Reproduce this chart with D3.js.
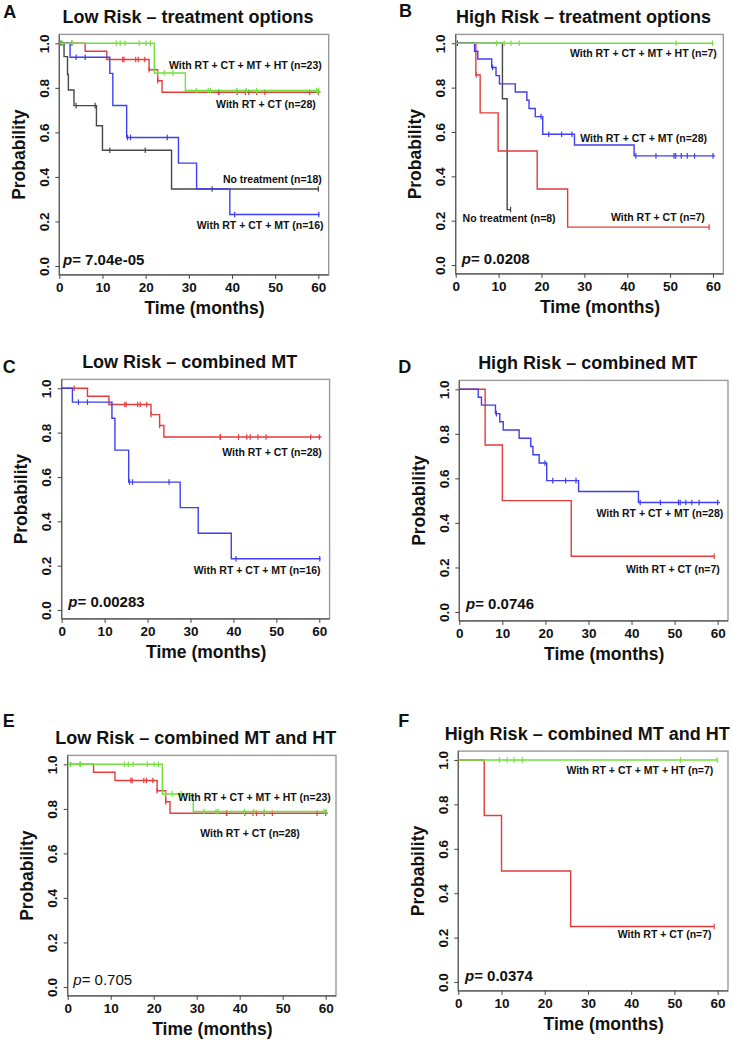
<!DOCTYPE html>
<html><head><meta charset="utf-8">
<script src="https://cdn.jsdelivr.net/npm/d3@7"></script>
<style>
body{margin:0;background:#fff}
svg{display:block}
text{font-family:"Liberation Sans",Arial,Helvetica,sans-serif;fill:#111}
</style>
</head><body>
<svg id="chart" width="733" height="1042"></svg>
<script>
// ---------------- data ----------------
const xTickValues = [0, 10, 20, 30, 40, 50, 60];
const xTickLabels = ["0", "10", "20", "30", "40", "50", "60"];
const yTickValues = [0, 0.2, 0.4, 0.6, 0.8, 1.0];
const yTickLabels = ["0.0", "0.2", "0.4", "0.6", "0.8", "1.0"];

// Low risk – no treatment (n=18)
const lowNoTxTimes = [0, 1.1, 1.9, 2.1, 3.4, 8.6, 10.0, 26.0];
const lowNoTxSurv  = [1, 0.94, 0.86, 0.79, 0.72, 0.63, 0.52, 0.346];
const lowNoTxCens  = [0.4, 3.9, 8.3, 11.7, 19.9, 35.4, 60.0];
const lowNoTxEnd   = 60.0;

// Low risk – RT + CT (n=28)
const lowRtCtTimes = [0, 6.0, 11.0, 20.8, 22.8, 23.8];
const lowRtCtSurv  = [1, 0.964, 0.927, 0.881, 0.832, 0.780];
const lowRtCtCens  = [2.9, 14.7, 15.0, 17.7, 18.3, 19.8, 20.8, 22.8, 36.9, 37.0, 41.2, 43.1, 43.9, 45.7, 47.6, 58.0, 60.0];
const lowRtCtEnd   = 60.5;

// Low risk – RT + CT + MT (n=16)
const lowRtCtMtTimes = [0, 2.5, 11.7, 12.4, 15.6, 27.6, 31.8, 39.5];
const lowRtCtMtSurv  = [1, 0.9375, 0.865, 0.721, 0.577, 0.462, 0.346, 0.231];
const lowRtCtMtCens  = [3.9, 6.0, 15.8, 16.5, 25.0, 40.6, 60.1];
const lowRtCtMtEnd   = 60.3;

// Low risk – RT + CT + MT + HT (n=23)
const lowAllTimes = [0, 22.0, 29.2];
const lowAllSurv  = [1, 0.867, 0.788];
const lowAllCens  = [0.7, 3.0, 13.2, 14.1, 15.2, 18.5, 20.1, 21.1, 22.7, 24.3, 26.3, 31.7, 34.5, 35.0, 41.1, 43.3, 45.7, 59.6, 60.1];
const lowAllEnd   = 60.3;

// High risk – no treatment (n=8)
const highNoTxTimes = [0, 10.9, 12.0];
const highNoTxSurv  = [1, 0.75, 0.25];
const highNoTxCens  = [0.4, 12.8];
const highNoTxEnd   = 12.8;

// High risk – RT + CT (n=7), panel B
const highRtCtTimes = [0, 4.7, 5.7, 9.9, 19.0, 26.1];
const highRtCtSurv  = [1, 0.857, 0.686, 0.514, 0.343, 0.171];
const highRtCtCens  = [4.8, 59.1];
const highRtCtEnd   = 59.1;

// High risk – RT + CT (n=7), panels D and F
const highRtCt2Times = [0, 6.0, 10.0, 26.0];
const highRtCt2Surv  = [1, 0.75, 0.5, 0.25];
const highRtCt2Cens  = [59.2];
const highRtCt2End   = 59.2;

// High risk – RT + CT + MT (n=28)
const highRtCtMtTimes = [0, 4.4, 5.15, 8.4, 9.4, 10.2, 13.9, 16.6, 17.1, 18.55, 20.3, 27.7, 41.6];
const highRtCtMtSurv  = [1, 0.964, 0.929, 0.891, 0.854, 0.817, 0.780, 0.743, 0.706, 0.669, 0.590, 0.541, 0.492];
const highRtCtMtCens  = [8.6, 19.9, 21.7, 24.7, 27.1, 42.0, 46.7, 50.9, 51.3, 52.6, 54.0, 55.7, 60.0];
const highRtCtMtEnd   = 60.5;

// High risk – RT + CT + MT + HT (n=7)
const highAllTimes = [0];
const highAllSurv  = [1];
const highAllCens  = [9.5, 11.3, 12.9, 14.8, 51.4, 59.9];
const highAllEnd   = 59.9;

const pValues = ["7.04e-05", "0.0208", "0.00283", "0.0746", "0.705", "0.0374"];

// ---------------- styles ----------------
const COL = {black: "#474747", red: "#e23c3c", blue: "#3f3ff0", green: "#72e03e"};

const curve = (times, surv, cens, end, color) => ({times, surv, cens, end, color});
const lowNoTx    = curve(lowNoTxTimes, lowNoTxSurv, lowNoTxCens, lowNoTxEnd, COL.black);
const lowRtCt    = curve(lowRtCtTimes, lowRtCtSurv, lowRtCtCens, lowRtCtEnd, COL.red);
const lowRtCtMt  = curve(lowRtCtMtTimes, lowRtCtMtSurv, lowRtCtMtCens, lowRtCtMtEnd, COL.blue);
const lowAll     = curve(lowAllTimes, lowAllSurv, lowAllCens, lowAllEnd, COL.green);
const highNoTx   = curve(highNoTxTimes, highNoTxSurv, highNoTxCens, highNoTxEnd, COL.black);
const highRtCt   = curve(highRtCtTimes, highRtCtSurv, highRtCtCens, highRtCtEnd, COL.red);
const highRtCt2  = curve(highRtCt2Times, highRtCt2Surv, highRtCt2Cens, highRtCt2End, COL.red);
const highRtCtMt = curve(highRtCtMtTimes, highRtCtMtSurv, highRtCtMtCens, highRtCtMtEnd, COL.blue);
const highAll    = curve(highAllTimes, highAllSurv, highAllCens, highAllEnd, COL.green);

const panels = [
  {letter: "A", letterPos: [3.3, 18.3], title: "Low Risk – treatment options",
   box: [59.3, 34.4, 328.7, 274.9], curves: [lowNoTx, lowRtCt, lowRtCtMt, lowAll],
   labels: [["With RT + CT + MT + HT (n=23)", 60.8, 0.885, "end"], ["With RT + CT (n=28)", 59.4, 0.708, "end"],
            ["No treatment (n=18)", 60.8, 0.371, "end"], ["With RT + CT + MT (n=16)", 61.2, 0.166, "end"]],
   p: 0, pBold: true, pPos: [0.86, 0.004]},
  {letter: "B", letterPos: [399, 16.7], title: "High Risk – treatment options",
   box: [455.7, 34.4, 723.3, 273.9], curves: [highNoTx, highRtCt, highRtCtMt, highAll],
   labels: [["With RT + CT + MT + HT (n=7)", 60.9, 0.937, "end"], ["With RT + CT + MT (n=28)", 58.6, 0.556, "end"],
            ["No treatment (n=8)", 23.3, 0.193, "end"], ["With RT + CT (n=7)", 58.1, 0.2, "end"]],
   p: 1, pBold: true, pPos: [1.4, 0.004]},
  {letter: "C", letterPos: [2.7, 372.7], title: "Low Risk – combined MT",
   box: [61.7, 379.4, 329.6, 618.9], curves: [lowRtCt, lowRtCtMt],
   labels: [["With RT + CT (n=28)", 60.6, 0.696, "end"], ["With RT + CT + MT (n=16)", 60.3, 0.162, "end"]],
   p: 2, pBold: true, pPos: [1.54, 0.012]},
  {letter: "D", letterPos: [398.3, 373.3], title: "High Risk – combined MT",
   box: [459.3, 380.4, 728.0, 620.9], curves: [highRtCt2, highRtCtMt],
   labels: [["With RT + CT + MT (n=28)", 61.3, 0.425, "end"], ["With RT + CT (n=7)", 60.5, 0.176, "end"]],
   p: 3, pBold: true, pPos: [1.56, 0.012]},
  {letter: "E", letterPos: [2.7, 726.7], title: "Low Risk – combined MT and HT",
   box: [67.7, 755.4, 336.0, 995.9], curves: [lowRtCt, lowAll],
   labels: [["With RT + CT + MT + HT (n=23)", 61.2, 0.837, "end"], ["With RT + CT (n=28)", 54.0, 0.672, "end"]],
   p: 4, pBold: false, pPos: [1.3, 0.009]},
  {letter: "F", letterPos: [398.3, 726.7], title: "High Risk – combined MT and HT",
   box: [458.3, 751.1, 728.0, 990.9], curves: [highRtCt2, highAll],
   labels: [["With RT + CT + MT + HT (n=7)", 59.0, 0.936, "end"], ["With RT + CT (n=7)", 58.6, 0.2, "end"]],
   p: 5, pBold: true, pPos: [1.55, 0.004]}
];

// ---------------- drawing ----------------
const svg = d3.select("#chart");

function survAt(c, t) {
  let s = c.surv[0];
  for (let i = 0; i < c.times.length; i++) if (c.times[i] <= t + 1e-9) s = c.surv[i];
  return s;
}

panels.forEach(P => {
  const [x0, y0, x1, y1] = P.box;
  const x = d3.scaleLinear().domain([0, 62.4]).range([x0, x1]);
  const y = d3.scaleLinear().domain([-0.04, 1.04]).range([y1, y0]);
  const g = svg.append("g");

  // panel letter + title
  g.append("text").attr("x", P.letterPos[0]).attr("y", P.letterPos[1])
    .attr("font-size", 18).attr("font-weight", "bold").text(P.letter);
  g.append("text").attr("x", (x0 + x1) / 2 - 6).attr("y", y0 - 11.5)
    .attr("text-anchor", "middle").attr("font-size", 18).attr("font-weight", "bold").text(P.title);

  // box
  g.append("rect").attr("x", x0).attr("y", y0).attr("width", x1 - x0).attr("height", y1 - y0)
    .attr("fill", "none").attr("stroke", "#9a9a9a").attr("stroke-width", 1.4);
  g.append("line").attr("x1", x0).attr("x2", x0).attr("y1", y0).attr("y2", y1).attr("stroke", "#555").attr("stroke-width", 1.1);
  g.append("line").attr("x1", x0).attr("x2", x1).attr("y1", y1).attr("y2", y1).attr("stroke", "#555").attr("stroke-width", 1.1);

  // x axis
  const xa = g.append("g").attr("transform", `translate(0,${y1})`)
    .call(d3.axisBottom(x).tickValues(xTickValues).tickFormat((d, i) => xTickLabels[i]).tickSize(4).tickPadding(3));
  xa.select(".domain").remove();
  xa.selectAll(".tick line").attr("stroke", "#444");
  xa.selectAll(".tick text").attr("font-size", 13.5).attr("font-weight", "bold").attr("fill", "#1a1a1a")
    .attr("font-family", "Liberation Sans, Arial, sans-serif").attr("dy", null).attr("y", 17.5);

  // y axis
  const ya = g.append("g").attr("transform", `translate(${x0},0)`)
    .call(d3.axisLeft(y).tickValues(yTickValues).tickFormat((d, i) => yTickLabels[i]).tickSize(4));
  ya.select(".domain").remove();
  ya.selectAll(".tick line").attr("stroke", "#444");
  ya.selectAll(".tick text").attr("x", null).attr("dy", null)
    .attr("transform", "translate(-15,0) rotate(-90)")
    .attr("text-anchor", "middle").attr("dy", "0.35em")
    .attr("font-size", 13.5).attr("font-weight", "bold").attr("fill", "#1a1a1a")
    .attr("font-family", "Liberation Sans, Arial, sans-serif");

  // axis titles
  g.append("text").attr("transform", `translate(${x0 - 39.5},${(y0 + y1) / 2}) rotate(-90)`)
    .attr("text-anchor", "middle").attr("dy", "0.3em").attr("font-size", 17.5).attr("font-weight", "bold").text("Probability");
  g.append("text").attr("x", (x0 + x1) / 2 + 10.5).attr("y", y1 + 39.5)
    .attr("text-anchor", "middle").attr("font-size", 17.5).attr("font-weight", "bold").text("Time (months)");

  // curves
  const line = d3.line().x(d => x(d[0])).y(d => y(d[1])).curve(d3.curveStepAfter);
  P.curves.forEach(c => {
    const pts = c.times.map((t, i) => [t, c.surv[i]]);
    pts.push([c.end, c.surv[c.surv.length - 1]]);
    g.append("path").attr("d", line(pts)).attr("fill", "none")
      .attr("stroke", c.color).attr("stroke-width", 1.4);
    g.selectAll(null).data(c.cens).enter().append("line")
      .attr("x1", t => x(t)).attr("x2", t => x(t))
      .attr("y1", t => y(survAt(c, t)) - 2.8).attr("y2", t => y(survAt(c, t)) + 2.8)
      .attr("stroke", c.color).attr("stroke-width", 1.2);
  });

  // curve labels
  P.labels.forEach(([txt, t, s, anchor]) => {
    g.append("text").attr("x", x(t)).attr("y", y(s)).attr("text-anchor", anchor)
      .attr("font-size", 10.5).attr("font-weight", "bold").text(txt);
  });

  // p-value
  const pt = g.append("text").attr("x", x(P.pPos[0])).attr("y", y(P.pPos[1]))
    .attr("font-size", 15).attr("font-weight", P.pBold ? "bold" : "normal");
  pt.append("tspan").attr("font-style", "italic").text("p");
  pt.append("tspan").text("= " + pValues[P.p]);
});
</script>
</body></html>
